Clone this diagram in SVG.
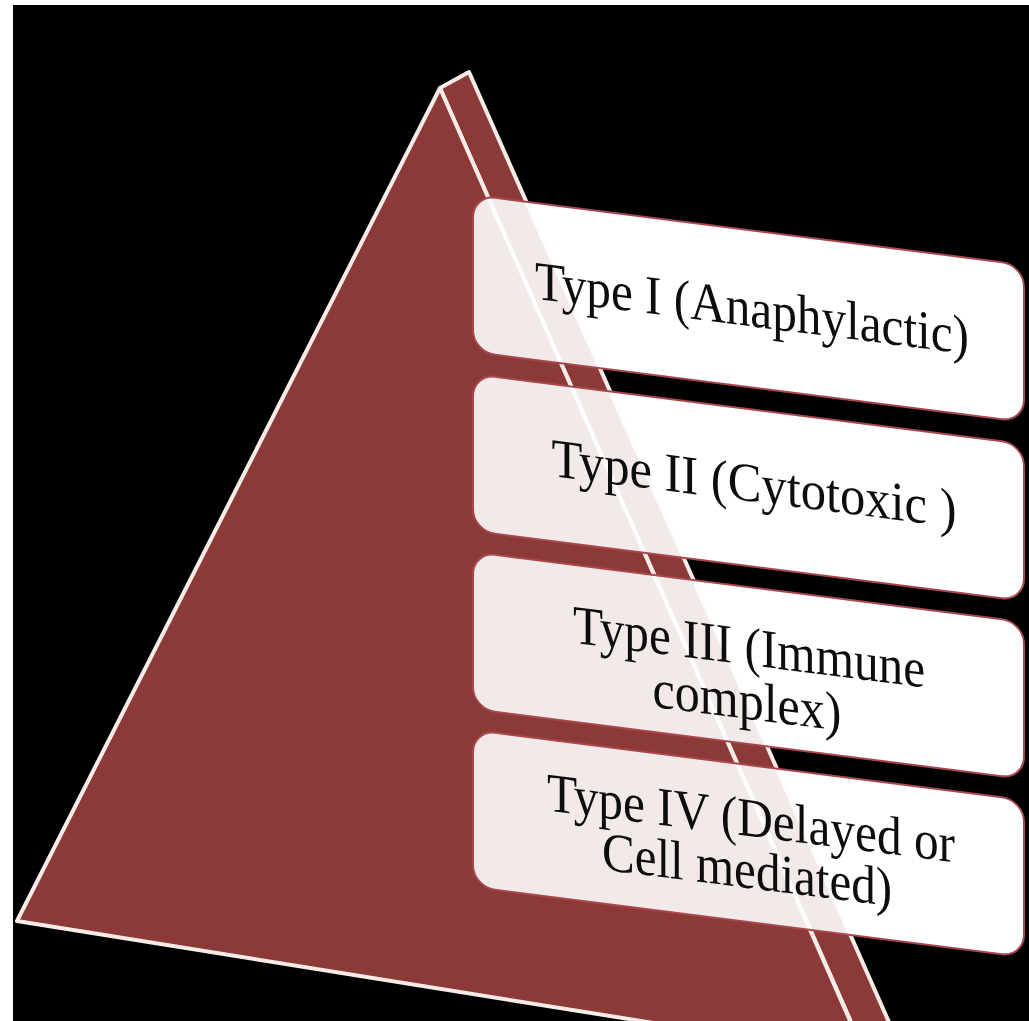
<svg xmlns="http://www.w3.org/2000/svg" width="1029" height="1021" viewBox="0 0 1029 1021">
  <defs>
    <style>
      .face { fill: #8c3a38; stroke: #f7ebe8; stroke-width: 4; stroke-linejoin: round; }
      .base { fill: #ffffff; }
      .box { fill: #ffffff; fill-opacity: 0.89; stroke: #a8484e; stroke-width: 2; }
      .lbl { font-family: "Liberation Serif", "Times New Roman", serif; font-size: 49px; fill: #0d0d0d; text-anchor: middle; }
    </style>
    <rect id="shape" x="0" y="0" width="551" height="157" rx="22" ry="22"/>
  </defs>

  <rect x="0" y="0" width="1029" height="1021" fill="#ffffff"/>
  <rect x="13" y="5" width="1016" height="1016" fill="#000000"/>

  <g id="box-bases">
    <use href="#shape" class="base" transform="matrix(1 0.127 0 1 473 195)"/>
    <use href="#shape" class="base" transform="matrix(1 0.127 0 1 473 374)"/>
    <use href="#shape" class="base" transform="matrix(1 0.127 0 1 473 552)"/>
    <use href="#shape" class="base" transform="matrix(1 0.127 0 1 473 730)"/>
  </g>

  <g id="pyramid">
    <polygon class="face" points="440,88 469,72 930,1115 892,1115"/>
    <polygon class="face" points="440,88 17,921 866,1057"/>
  </g>

  <g id="type1" transform="matrix(1 0.127 0 1 473 195)">
    <use href="#shape" class="box"/>
    <text class="lbl" transform="translate(279 96) scale(1 1.12)" x="0" y="0" textLength="434" lengthAdjust="spacingAndGlyphs">Type I (Anaphylactic)</text>
  </g>

  <g id="type2" transform="matrix(1 0.127 0 1 473 374)">
    <use href="#shape" class="box"/>
    <text class="lbl" transform="translate(281 92) scale(1 1.12)" x="0" y="0" textLength="405" lengthAdjust="spacingAndGlyphs">Type II (Cytotoxic )</text>
  </g>

  <g id="type3" transform="matrix(1 0.127 0 1 473 552)">
    <use href="#shape" class="box"/>
    <text class="lbl" transform="translate(276 78) scale(1 1.12)" x="0" y="0" textLength="352" lengthAdjust="spacingAndGlyphs">Type III (Immune</text>
    <text class="lbl" transform="translate(274 132) scale(1 1.12)" x="0" y="0" textLength="189" lengthAdjust="spacingAndGlyphs">complex)</text>
  </g>

  <g id="type4" transform="matrix(1 0.127 0 1 473 730)">
    <use href="#shape" class="box"/>
    <text class="lbl" transform="translate(278 71) scale(1 1.12)" x="0" y="0" textLength="408" lengthAdjust="spacingAndGlyphs">Type IV (Delayed or</text>
    <text class="lbl" transform="translate(274 123) scale(1 1.12)" x="0" y="0" textLength="290" lengthAdjust="spacingAndGlyphs">Cell mediated)</text>
  </g>
</svg>
